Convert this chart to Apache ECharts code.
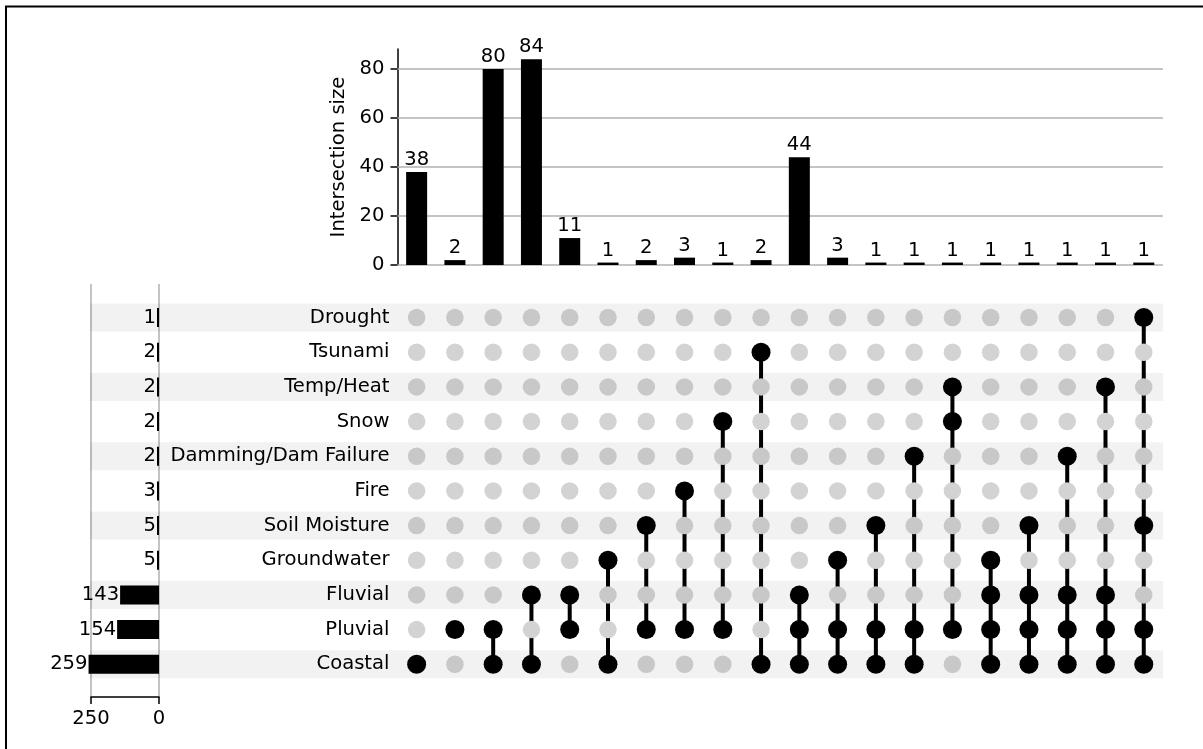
<!DOCTYPE html>
<html><head><meta charset="utf-8">
<script src="https://cdn.jsdelivr.net/npm/echarts@6/dist/echarts.min.js"></script>
<style>html,body{margin:0;padding:0;background:#fff}#c{width:1203px;height:749px}</style>
</head><body><div id="c"></div>
<script>
const sets = ['Drought','Tsunami','Temp/Heat','Snow','Damming/Dam Failure','Fire','Soil Moisture','Groundwater','Fluvial','Pluvial','Coastal'];
const setTotals = [1,2,2,2,2,3,5,5,143,154,259];
const intersectionSizes = [38,2,80,84,11,1,2,3,1,2,44,3,1,1,1,1,1,1,1,1];
const memberships = [
  ['Coastal'],
  ['Pluvial'],
  ['Pluvial','Coastal'],
  ['Fluvial','Coastal'],
  ['Fluvial','Pluvial'],
  ['Groundwater','Coastal'],
  ['Soil Moisture','Pluvial'],
  ['Fire','Pluvial'],
  ['Snow','Pluvial'],
  ['Tsunami','Coastal'],
  ['Fluvial','Pluvial','Coastal'],
  ['Groundwater','Pluvial','Coastal'],
  ['Soil Moisture','Pluvial','Coastal'],
  ['Damming/Dam Failure','Pluvial','Coastal'],
  ['Temp/Heat','Snow','Pluvial'],
  ['Groundwater','Fluvial','Pluvial','Coastal'],
  ['Soil Moisture','Fluvial','Pluvial','Coastal'],
  ['Damming/Dam Failure','Fluvial','Pluvial','Coastal'],
  ['Temp/Heat','Fluvial','Pluvial','Coastal'],
  ['Drought','Soil Moisture','Pluvial','Coastal']
];
const barTicks = [0,20,40,60,80];
const totalTicks = [0,250];

const FONT = 'DejaVu Sans';
const FS = 19.6;
const cols = intersectionSizes.map((_, i) => String(i));

const greyDots = [], blackDots = [], links = [];
memberships.forEach((m, c) => {
  const rows = m.map(s => sets.indexOf(s));
  sets.forEach((s, r) => { if (!rows.includes(r)) greyDots.push([c, r]); else blackDots.push([c, r]); });
  links.push([c, Math.min(...rows), Math.max(...rows)]);
});
const bandData = sets.map((s, i) => (i % 2 === 0 ? 1 : '-'));

const G = { outerBoundsMode: 'none', containLabel: false };
const chart = echarts.init(document.getElementById('c'), null, { renderer: 'canvas' });
chart.setOption({
  backgroundColor: '#fff',
  animation: false,
  textStyle: { fontFamily: FONT },
  graphic: [{
    type: 'rect', shape: { x: 6, y: 6.5, width: 1400, height: 1000 },
    style: { fill: 'none', stroke: '#000', lineWidth: 2 }, silent: true, z: 100
  }],
  grid: [
    Object.assign({ left: 397.5, top: 49, width: 765.4, height: 216 }, G),
    Object.assign({ left: 397.5, top: 300.2, width: 765.4, height: 381.4 }, G),
    Object.assign({ left: 90, top: 300.2, width: 1073, height: 381.4 }, G),
    Object.assign({ left: 91, top: 300.2, width: 68, height: 381.4 }, G),
    Object.assign({ left: 91, top: 284, width: 68, height: 413 }, G)
  ],
  xAxis: [
    { gridIndex: 0, type: 'category', data: cols, show: false },
    { gridIndex: 1, type: 'category', data: cols, show: false },
    { gridIndex: 2, type: 'value', min: 0, max: 1, show: false },
    { gridIndex: 3, type: 'value', min: 0, max: 250, inverse: true, show: false },
    { gridIndex: 4, type: 'value', min: totalTicks[0], max: totalTicks[1], interval: 250, inverse: true, position: 'bottom',
      axisLine: { show: true, lineStyle: { color: '#000', width: 1.5 } },
      axisTick: { show: true, length: 7, lineStyle: { color: '#000', width: 1.5 } },
      axisLabel: { show: true, color: '#000', fontSize: FS, fontFamily: FONT, margin: 12 },
      splitLine: { show: true, lineStyle: { color: '#b0b0b0', width: 1.5 } } }
  ],
  yAxis: [
    { gridIndex: 0, type: 'value', min: 0, max: 88.2, interval: 20,
      name: 'Intersection size', nameLocation: 'middle', nameRotate: 90, nameGap: 49,
      nameTextStyle: { color: '#000', fontSize: FS, fontFamily: FONT },
      axisLine: { show: true, lineStyle: { color: '#000', width: 1.5 } },
      axisTick: { show: true, length: 7, customValues: barTicks, lineStyle: { color: '#000', width: 1.5 } },
      axisLabel: { show: true, customValues: barTicks, color: '#000', fontSize: FS, fontFamily: FONT, margin: 13 },
      splitLine: { show: false } },
    { gridIndex: 1, type: 'category', data: sets, inverse: true,
      axisLine: { show: false }, axisTick: { show: false },
      axisLabel: { show: true, color: '#000', fontSize: FS, fontFamily: FONT, margin: 8 },
      splitLine: { show: false } },
    { gridIndex: 2, type: 'category', data: sets, inverse: true, show: false },
    { gridIndex: 3, type: 'category', data: sets, inverse: true, show: false },
    { gridIndex: 4, type: 'value', min: 0, max: 1, show: false }
  ],
  series: [
    { type: 'bar', xAxisIndex: 0, yAxisIndex: 0, data: intersectionSizes, barWidth: 21, z: 2,
      itemStyle: { color: '#000' },
      label: { show: true, position: 'top', distance: 2, color: '#000', fontSize: FS, fontFamily: FONT },
      markLine: { silent: true, symbol: ['none', 'none'], label: { show: false }, z: 1,
        lineStyle: { color: '#b0b0b0', width: 1.5, type: 'solid' },
        data: barTicks.map(v => ({ yAxis: v })) } },
    { type: 'custom', xAxisIndex: 1, yAxisIndex: 1, data: links, z: 1, silent: true,
      encode: { x: 0, y: [1, 2] },
      renderItem: (params, api) => {
        const p1 = api.coord([api.value(0), api.value(1)]);
        const p2 = api.coord([api.value(0), api.value(2)]);
        return { type: 'line', shape: { x1: p1[0], y1: p1[1], x2: p2[0], y2: p2[1] },
          style: { stroke: '#000', lineWidth: 4 } };
      } },
    { type: 'scatter', xAxisIndex: 1, yAxisIndex: 1, data: greyDots, symbolSize: 17.5, z: 2, silent: true,
      itemStyle: { color: '#d3d3d3', opacity: 1 } },
    { type: 'bar', xAxisIndex: 2, yAxisIndex: 2, data: bandData, barWidth: 28, z: 3, silent: true,
      itemStyle: { color: 'rgba(0,0,0,0.05)' } },
    { type: 'scatter', xAxisIndex: 1, yAxisIndex: 1, data: blackDots, symbolSize: 19, z: 4, silent: true,
      itemStyle: { color: '#000', opacity: 1 } },
    { type: 'bar', xAxisIndex: 3, yAxisIndex: 3, data: setTotals, barWidth: 19, barMinHeight: 2, clip: false, z: 2,
      itemStyle: { color: '#000' },
      label: { show: true, position: 'left', distance: 1, color: '#000', fontSize: FS, fontFamily: FONT } }
  ]
});
</script></body></html>
